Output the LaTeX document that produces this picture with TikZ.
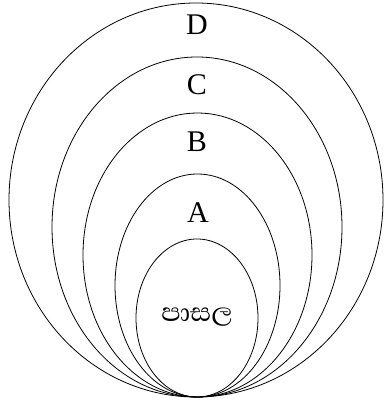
\documentclass[tikz,border=0pt]{standalone}
\usepackage{fontspec}
\setmainfont{Liberation Serif}
\newfontfamily\sinhalafont[Script=Sinhala]{Abhaya Libre}
\begin{document}
\begin{tikzpicture}[x=1pt,y=1pt,
    ring/.style={draw=black, line width=0.8pt},
    lbl/.style={font=\fontsize{30}{32}\selectfont, inner sep=0pt}]
  \useasboundingbox (0,0) rectangle (383,401);

  % nested rings, all touching at the bottom
  \foreach \cx/\hw/\hh in {197/61/79, 197.5/82.5/111.5, 197.5/114.5/142, 197/145/170, 196/187/197} {
    \draw[ring] (\cx,{4+\hh}) ellipse [x radius=\hw, y radius=\hh];
  }

  % labels
  \node[lbl] (labD) at (197,376) {D};
  \node[lbl] (labC) at (197,316) {C};
  \node[lbl] (labB) at (197,259) {B};
  \node[lbl] (labA) at (198,188) {A};
  \node[inner sep=0pt, font=\sinhalafont\fontsize{33}{35}\selectfont] (school) at (197,84) {පාසල};
\end{tikzpicture}
\end{document}
